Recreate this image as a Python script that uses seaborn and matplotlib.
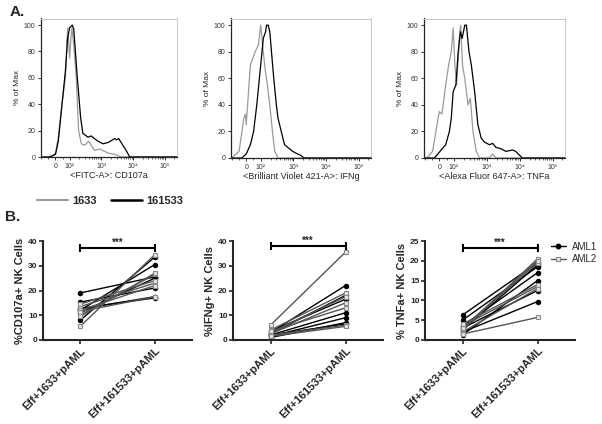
import numpy as np
import pandas as pd
import matplotlib.pyplot as plt
from matplotlib.lines import Line2D
import seaborn as sns

# ---- A. flow histograms (x = fluorescence, y = % of max)
cd107a_1633_x = [-105, -60, -20, 0, 20, 46, 70, 86, 95, 100, 110, 118, 135, 162, 192, 233, 300, 398, 500, 616, 886, 1620, 2650, 4300, 2.4e5]
cd107a_1633_y = [0, 0, 1, 3, 15, 40, 60, 98, 85, 75, 90, 98, 85, 60, 20, 10, 9, 12, 8, 5, 6, 3, 2, 0, 0]
cd107a_161533_x = [-105, -40, 0, 20, 46, 70, 86, 100, 121, 135, 175, 222, 260, 380, 480, 600, 780, 1130, 1620, 2650, 3000, 3500, 6000, 7800, 2.4e5]
cd107a_161533_y = [0, 0, 2, 12, 40, 65, 90, 98, 100, 97, 60, 30, 18, 15, 16, 14, 12, 10, 11, 14, 13, 14, 5, 0, 0]

ifng_1633_x = [-105, -90, -49, -16, -5, 0, 29, 62, 84, 100, 120, 135, 160, 190, 229, 269, 339, 2.4e5]
ifng_1633_y = [0, 1, 5, 30, 33, 25, 70, 80, 85, 100, 80, 68, 55, 40, 20, 5, 0, 0]
ifng_161533_x = [-105, -30, 0, 29, 51, 73, 91, 120, 141, 151, 170, 190, 251, 302, 339, 426, 537, 759, 955, 1350, 1700, 2130, 2.4e5]
ifng_161533_y = [0, 0, 3, 10, 20, 40, 60, 90, 95, 100, 100, 95, 60, 40, 30, 20, 10, 7, 5, 3, 2, 0, 0]

tnfa_1633_x = [-105, -85, -46, -8, 0, 18, 44, 64, 82, 95, 107, 120, 135, 151, 162, 182, 214, 269, 316, 380, 479, 603, 1200, 1510, 1900, 2.4e5]
tnfa_1633_y = [0, 0, 5, 30, 35, 33, 55, 70, 80, 98, 70, 55, 75, 95, 100, 70, 60, 40, 45, 20, 5, 0, 0, 3, 0, 0]
tnfa_161533_x = [-105, -33, 5, 44, 69, 82, 95, 115, 135, 158, 178, 214, 240, 288, 339, 427, 537, 676, 851, 1200, 1510, 1900, 2690, 3800, 6030, 7590, 12000, 2.4e5]
tnfa_161533_y = [0, 0, 5, 10, 20, 30, 50, 55, 80, 95, 90, 100, 100, 80, 70, 50, 25, 15, 12, 10, 11, 8, 7, 5, 6, 5, 0, 0]

hist_xlabels = ['<FITC-A>: CD107a', '<Brilliant Violet 421-A>: IFNg', '<Alexa Fluor 647-A>: TNFa']
hist_labels = ['1633', '161533']
hist_ticklabels = ['0', '10²', '10³', '10⁴', '10⁵']

# ---- B. paired % positive NK cells per donor
conditions = ['Eff+1633+pAML', 'Eff+161533+pAML']
cd107a_aml1_pre = [19, 15.3, 12.5, 12, 11, 8, 12.8]
cd107a_aml1_post = [25.5, 21, 17.5, 30.5, 25, 33.5, 17]
cd107a_aml2_pre = [5.5, 13.5, 10, 14.5, 12, 9.5, 11.5]
cd107a_aml2_post = [34.5, 23, 26.5, 24, 22, 27, 17.5]

ifng_aml1_pre = [3, 2.5, 2, 1.5, 1, 2, 3.5]
ifng_aml1_post = [22, 18, 11, 9, 7, 6.5, 16.5]
ifng_aml2_pre = [6, 4, 3, 2.5, 2, 1.5, 3.5]
ifng_aml2_post = [35.5, 19, 17.5, 15, 6, 5.5, 13]

tnfa_aml1_pre = [6.3, 5, 3.5, 1.3, 3, 2, 2.5]
tnfa_aml1_post = [19.5, 18.5, 17, 15, 12.5, 9.7, 19]
tnfa_aml2_pre = [2.5, 3.5, 2, 1.5, 2.8, 3, 4]
tnfa_aml2_post = [20.5, 13.5, 13, 5.7, 19.5, 20, 14]

ylabels_b = ['%CD107a+ NK Cells', '%IFNg+ NK Cells', '% TNFa+ NK Cells']
ymax_b = [40, 40, 25]
ystep_b = [10, 10, 5]
sig_y = [37.3, 38, 23.3]


def long_df(a1_pre, a1_post, a2_pre, a2_post):
    rows = []
    for grp, pre, post in [('AML1', a1_pre, a1_post), ('AML2', a2_pre, a2_post)]:
        for i, (a, b) in enumerate(zip(pre, post)):
            rows.append((grp, f'{grp}_{i}', conditions[0], a))
            rows.append((grp, f'{grp}_{i}', conditions[1], b))
    return pd.DataFrame(rows, columns=['group', 'donor', 'condition', 'value'])


sns.set_style('ticks')
plt.rcParams['font.family'] = ['Liberation Sans', 'DejaVu Sans']

fig = plt.figure(figsize=(6.02, 4.24), dpi=100)
W, H = 602, 424


def px_axes(x0, x1, y0, y1):
    return fig.add_axes([x0 / W, 1 - y1 / H, (x1 - x0) / W, (y1 - y0) / H])


GRAY = '#9a9a9a'

# top row
top_boxes = [(40.7, 177, 18.5, 157), (231, 371, 18.5, 158), (424, 565, 18.5, 158)]
hists = [(cd107a_1633_x, cd107a_1633_y, cd107a_161533_x, cd107a_161533_y),
         (ifng_1633_x, ifng_1633_y, ifng_161533_x, ifng_161533_y),
         (tnfa_1633_x, tnfa_1633_y, tnfa_161533_x, tnfa_161533_y)]
minor = [-100, -50, 50] + [m * 10 ** k for k in range(2, 5) for m in range(2, 10)] + [2e5]
for box, (gx, gy, bx, by), xl in zip(top_boxes, hists, hist_xlabels):
    ax = px_axes(*box)
    ax.set_xscale('symlog', linthresh=100, linscale=0.4)
    sns.lineplot(x=gx, y=gy, estimator=None, sort=False, color=GRAY, lw=0.9, ax=ax)
    sns.lineplot(x=bx, y=by, estimator=None, sort=False, color='black', lw=0.9, ax=ax)
    ax.set_xlim(-105, 2.4e5)
    ax.set_ylim(0, 105)
    ax.set_xticks([0, 100, 1000, 1e4, 1e5])
    ax.set_xticklabels(hist_ticklabels)
    ax.set_xticks(minor, minor=True)
    ax.set_yticks([0, 20, 40, 60, 80, 100])
    ax.tick_params(labelsize=5, length=2.5, width=0.7, pad=1.5, colors='#333333')
    ax.tick_params(which='minor', length=1.5, width=0.5)
    ax.set_xlabel(xl, fontsize=6.5, labelpad=1)
    ax.set_ylabel('% of Max', fontsize=6, labelpad=2)
    for s in ['top', 'right']:
        ax.spines[s].set_color('#c8c8c8')
        ax.spines[s].set_linewidth(0.7)
    for s in ['left', 'bottom']:
        ax.spines[s].set_linewidth(0.9)

top_handles = [Line2D([], [], color=GRAY, lw=1.5), Line2D([], [], color='black', lw=1.8)]
fig.legend(top_handles, hist_labels, loc='center left', bbox_to_anchor=(37 / W, 1 - 201 / H),
           ncol=2, frameon=False, borderpad=0, borderaxespad=0, handlelength=2.8,
           handletextpad=0.35, columnspacing=1.3, prop={'weight': 'bold', 'size': 8})

# bottom row
bot_boxes = [(43, 192, 241, 340), (233, 383, 241, 340), (425, 575, 241, 340)]
b_data = [(cd107a_aml1_pre, cd107a_aml1_post, cd107a_aml2_pre, cd107a_aml2_post),
          (ifng_aml1_pre, ifng_aml1_post, ifng_aml2_pre, ifng_aml2_post),
          (tnfa_aml1_pre, tnfa_aml1_post, tnfa_aml2_pre, tnfa_aml2_post)]
styles = {'AML1': dict(color='black', marker='o', ms=3.2, mfc='black', mec='black'),
          'AML2': dict(color='#555555', marker='s', ms=3.4, mfc='#e6e6e6', mec='#8a8a8a', mew=0.8)}
for i, (box, vals) in enumerate(zip(bot_boxes, b_data)):
    ax = px_axes(*box)
    df = long_df(*vals)
    for grp in ['AML1', 'AML2']:
        sns.lineplot(data=df[df.group == grp], x='condition', y='value', units='donor',
                     estimator=None, lw=1, legend=False, ax=ax, **styles[grp])
    ax.set_xlim(-0.5, 1.5)
    ax.set_ylim(0, ymax_b[i])
    ax.set_yticks(np.arange(0, ymax_b[i] + 1, ystep_b[i]))
    sns.despine(ax=ax)
    for s in ['left', 'bottom']:
        ax.spines[s].set_linewidth(1.5)
    ax.tick_params(length=3, width=1.2, pad=1, labelsize=6)
    for t in ax.get_yticklabels():
        t.set_fontweight('bold')
    ax.set_xticks([0, 1])
    ax.set_xticklabels(conditions, rotation=45, ha='right', rotation_mode='anchor',
                       fontsize=8, fontweight='bold')
    ax.set_xlabel('')
    ax.set_ylabel(ylabels_b[i], fontsize=8, fontweight='bold', labelpad=2)
    y = sig_y[i]
    ax.plot([0, 1], [y, y], color='black', lw=1.5, marker='|', ms=6, mew=1.5, clip_on=False)
    ax.text(0.5, y, '***', ha='center', va='bottom', fontsize=7, fontweight='bold')
    if i == 2:
        h = [Line2D([], [], lw=1, **styles['AML1']), Line2D([], [], lw=1, **styles['AML2'])]
        fig.legend(h, ['AML1', 'AML2'], loc='center left', bbox_to_anchor=(551 / W, 1 - 253 / H),
                   frameon=False, borderpad=0, borderaxespad=0, handlelength=1.5,
                   handletextpad=0.7, labelspacing=0.25, fontsize=7)

fig.text(10 / W, 1 - 12 / H, 'A.', fontsize=11, fontweight='bold', va='center')
fig.text(5 / W, 1 - 217 / H, 'B.', fontsize=11, fontweight='bold', va='center')

fig.savefig('out.png', dpi=100)
